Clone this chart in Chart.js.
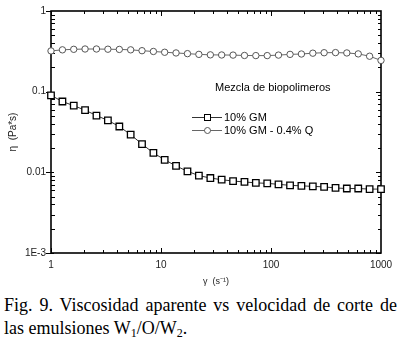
<!DOCTYPE html>
<html>
<head>
<meta charset="utf-8">
<script src="https://cdn.jsdelivr.net/npm/chart.js@4"></script>
<style>
  html, body { margin: 0; padding: 0; background: #fff; width: 400px; height: 349px; overflow: hidden; }
  #wrap { position: absolute; left: 0; top: 0; width: 400px; height: 292px; }
  #caption {
    position: absolute; left: 4px; top: 294px; width: 393px;
    font-family: "Liberation Serif", "Times New Roman", serif; font-size: 18px; line-height: 23px;
    color: #000; text-align: justify; text-align-last: left; margin: 0;
  }
  #caption sub { font-size: 12px; line-height: 0; vertical-align: -3px; }
</style>
</head>
<body>
<div id="wrap"><canvas id="c" width="400" height="292"></canvas></div>
<p id="caption">Fig. 9. Viscosidad aparente vs velocidad de corte de las emulsiones W<sub>1</sub>/O/W<sub>2</sub>.</p>
<script>
// Shear rate (s^-1)
const shearRate = [1, 1.27, 1.61, 2.04, 2.59, 3.29, 4.18, 5.30, 6.72, 8.53,
                   10.8, 13.7, 17.4, 22.1, 28.1, 35.6, 45.2, 57.4, 72.8, 92.4,
                   117, 149, 189, 240, 304, 386, 489, 621, 788, 1000];
// Viscosity (Pa*s)
const gm10 = [0.090, 0.0755, 0.067, 0.059, 0.0506, 0.044, 0.037, 0.0293, 0.0224, 0.0174,
              0.0143, 0.0120, 0.0103, 0.0091, 0.0085, 0.0081, 0.0078, 0.0076, 0.0074, 0.0073,
              0.0071, 0.0069, 0.0068, 0.0067, 0.0066, 0.0064, 0.0063, 0.0063, 0.0062, 0.0062];
const gm10q04 = [0.320, 0.330, 0.335, 0.338, 0.338, 0.336, 0.334, 0.330, 0.322, 0.315,
                 0.308, 0.302, 0.296, 0.290, 0.286, 0.285, 0.284, 0.281, 0.280, 0.280,
                 0.284, 0.290, 0.293, 0.300, 0.304, 0.305, 0.302, 0.294, 0.275, 0.244];
const seriesNames = ['10% GM', '10% GM - 0.4% Q'];
const legendTitle = 'Mezcla de biopolimeros';
const xTicks = [1, 10, 100, 1000];
const yTicks = [0.001, 0.01, 0.1, 1];
const yTickLabels = ['1E-3', '0.01', '0.1', '1'];

const FONT = '"Liberation Sans", Arial, sans-serif';

const framePlugin = {
  id: 'frame',
  beforeDatasetsDraw(chart) {
    const ctx = chart.ctx;
    const {left, right, top, bottom} = chart.chartArea;
    const xs = chart.scales.x, ys = chart.scales.y;
    ctx.save();
    ctx.strokeStyle = '#000';
    ctx.lineWidth = 1.6;
    ctx.strokeRect(left, top, right - left, bottom - top);
    ctx.lineWidth = 1;
    ctx.beginPath();
    for (let d = 0; d < 3; d++) {
      const base = xTicks[d];
      for (let m = 1; m <= 9; m++) {
        const px = Math.round(xs.getPixelForValue(base * m)) + 0.5;
        const len = m === 1 ? 5 : 3;
        ctx.moveTo(px, bottom); ctx.lineTo(px, bottom - len);
        ctx.moveTo(px, top); ctx.lineTo(px, top + len);
      }
    }
    for (let d = 0; d < 3; d++) {
      const base = yTicks[d];
      for (let m = 1; m <= 9; m++) {
        const py = Math.round(ys.getPixelForValue(base * m)) + 0.5;
        if (m === 1) {
          ctx.moveTo(left - 5, py); ctx.lineTo(left + 3, py);
          ctx.moveTo(right, py); ctx.lineTo(right - 5, py);
        } else {
          ctx.moveTo(left, py); ctx.lineTo(left + 4, py);
          ctx.moveTo(right, py); ctx.lineTo(right - 3, py);
        }
      }
    }
    {
      const py = Math.round(ys.getPixelForValue(1)) + 0.5;
      ctx.moveTo(left - 5, py); ctx.lineTo(left, py);
    }
    ctx.stroke();

    ctx.fillStyle = '#000';
    ctx.font = '11px ' + FONT;
    ctx.textBaseline = 'middle';
    ctx.textAlign = 'left';
    ctx.fillText(legendTitle, 215, 88);
    const rows = [117, 130];
    chart.data.datasets.forEach((ds, i) => {
      const y = rows[i];
      ctx.strokeStyle = ds.borderColor;
      ctx.lineWidth = 1;
      ctx.beginPath(); ctx.moveTo(192, y + 0.5); ctx.lineTo(222, y + 0.5); ctx.stroke();
      ctx.fillStyle = '#fff';
      ctx.strokeStyle = ds.pointBorderColor;
      if (ds.pointStyle === 'rect') {
        ctx.fillRect(204, y - 3, 7, 7);
        ctx.strokeRect(204.5, y - 2.5, 6, 6);
      } else {
        ctx.beginPath(); ctx.arc(207.5, y + 0.5, 3, 0, Math.PI * 2); ctx.fill(); ctx.stroke();
      }
      ctx.fillStyle = '#000';
      ctx.fillText(ds.label, 224, y + 1);
    });
    ctx.restore();
  }
};

new Chart(document.getElementById('c'), {
  type: 'line',
  data: {
    labels: shearRate,
    datasets: [
      {
        label: seriesNames[0],
        data: shearRate.map((x, i) => ({x, y: gm10[i]})),
        borderColor: '#333', borderWidth: 1, clip: false,
        pointStyle: 'rect', pointRadius: 4.6, pointBorderWidth: 1.3,
        pointBorderColor: '#000', pointBackgroundColor: '#fff', tension: 0
      },
      {
        label: seriesNames[1],
        data: shearRate.map((x, i) => ({x, y: gm10q04[i]})),
        borderColor: '#666', borderWidth: 1, clip: false,
        pointStyle: 'circle', pointRadius: 3.2, pointBorderWidth: 1,
        pointBorderColor: '#555', pointBackgroundColor: '#fff', tension: 0
      }
    ]
  },
  options: {
    responsive: false, animation: false, devicePixelRatio: 1,
    layout: { padding: { top: 7, right: 19, left: 0, bottom: 0 } },
    plugins: { legend: { display: false }, tooltip: { enabled: false } },
    scales: {
      x: {
        type: 'logarithmic', min: 1, max: 1000,
        grid: { display: false, drawTicks: false }, border: { display: false },
        afterBuildTicks: s => { s.ticks = xTicks.map(v => ({value: v, major: true})); },
        afterFit: s => { s.height = 39; },
        ticks: { autoSkip: false, maxRotation: 0, padding: 6, color: '#222',
                 font: { family: FONT, size: 10 }, callback: v => String(v) },
        title: { display: true, text: 'γ  (s⁻¹)', color: '#222',
                 font: { family: FONT, size: 9 }, padding: { bottom: 5, top: 0 } }
      },
      y: {
        type: 'logarithmic', min: 0.001, max: 1,
        grid: { display: false, drawTicks: false }, border: { display: false },
        afterBuildTicks: s => { s.ticks = yTicks.map(v => ({value: v, major: true})); },
        afterFit: s => { s.width = 51; },
        ticks: { autoSkip: false, padding: 5, color: '#222',
                 font: { family: FONT, size: 10 },
                 callback: v => yTickLabels[yTicks.findIndex(t => Math.abs(t - v) / t < 1e-6)] },
        title: { display: true, text: 'η  (Pa*s)', color: '#222',
                 font: { family: FONT, size: 10 }, padding: { top: 7, bottom: 0 } }
      }
    }
  },
  plugins: [framePlugin]
});
</script>
</body>
</html>
